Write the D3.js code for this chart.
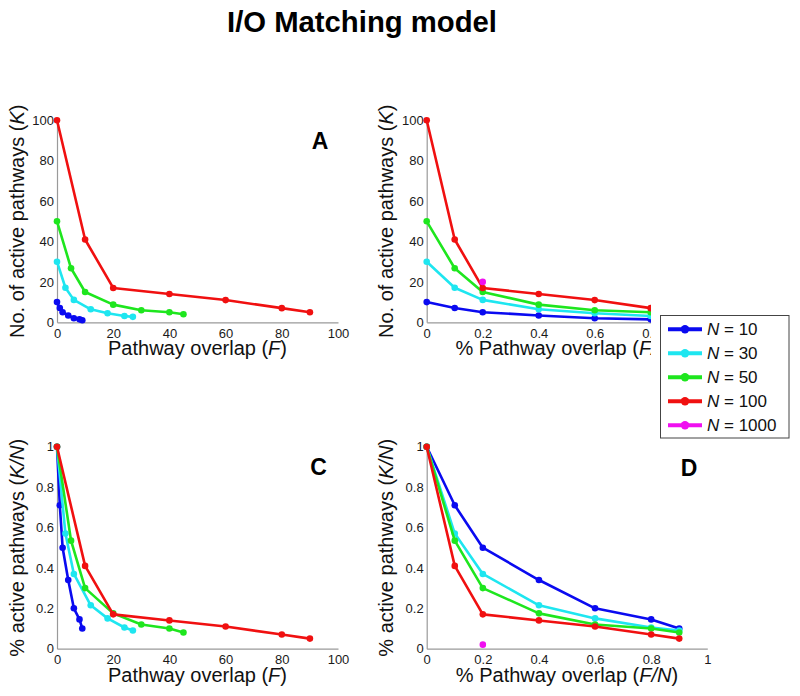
<!DOCTYPE html>
<html>
<head>
<meta charset="utf-8">
<script src="https://cdn.jsdelivr.net/npm/d3@7"></script>
<style>
  html, body { margin: 0; padding: 0; background: #fff; }
  svg { display: block; font-family: "Liberation Sans", Arial, Helvetica, sans-serif; }
</style>
</head>
<body>
<svg id="chart" width="800" height="696"></svg>
<script>
// ---------------- DATA ----------------
const seriesN = [10, 30, 50, 100, 1000];
const seriesColors = ["#0a0af0", "#1ee6f0", "#1ee61e", "#f01010", "#f010f0"];
const seriesLabels = ["10", "30", "50", "100", "1000"];

// Pathway overlap F (per series)
const F_N10   = [0, 1, 2, 4, 6, 8, 9];
const F_N30   = [0, 3, 6, 12, 18, 24, 27];
const F_N50   = [0, 5, 10, 20, 30, 40, 45];
const F_N100  = [0, 10, 20, 40, 60, 80, 90];
const F_N1000 = [200];

// Number of active pathways K (per series)
const K_N10   = [10, 7.1, 5, 3.4, 2, 1.45, 1];
const K_N30   = [30, 17.1, 11.1, 6.45, 4.5, 3.15, 2.7];
const K_N50   = [50, 26.75, 15, 8.75, 6, 5, 4];
const K_N100  = [100, 41, 17, 14, 11, 7, 5];
const K_N1000 = [20];

const F_all = [F_N10, F_N30, F_N50, F_N100, F_N1000];
const K_all = [K_N10, K_N30, K_N50, K_N100, K_N1000];

// tick labels
const ticksCount = [0, 20, 40, 60, 80, 100];
const ticksFrac  = [0, 0.2, 0.4, 0.6, 0.8, 1];

// ---------------- DRAW ----------------
const svg = d3.select("#chart");
const fmt = d => (d === 0 ? "0" : d3.format("~g")(d));

svg.append("text")
  .attr("x", 362).attr("y", 32)
  .attr("text-anchor", "middle")
  .attr("font-size", 29).attr("font-weight", "bold")
  .attr("textLength", 270).attr("lengthAdjust", "spacingAndGlyphs")
  .text("I/O Matching model");

const defs = svg.append("defs");
defs.append("clipPath").attr("id", "clipB")
  .append("rect").attr("x", 360).attr("y", 60).attr("width", 291).attr("height", 320);

function panel(cfg) {
  const g = svg.append("g");
  if (cfg.clip) g.attr("clip-path", "url(#" + cfg.clip + ")");
  const x = d3.scaleLinear().domain([0, cfg.xmax]).range([cfg.x0, cfg.x1]);
  const y = d3.scaleLinear().domain([0, cfg.ymax]).range([cfg.yb, cfg.yt]);

  // axes
  const xa = g.append("g").attr("transform", `translate(0,${cfg.yb})`)
    .call(d3.axisBottom(x).tickValues(cfg.xticks).tickSize(0).tickPadding(6).tickFormat(fmt));
  const ya = g.append("g").attr("transform", `translate(${cfg.x0},0)`)
    .call(d3.axisLeft(y).tickValues(cfg.yticks).tickSize(0).tickPadding(3).tickFormat(fmt));
  [xa, ya].forEach(a => {
    a.select(".domain").attr("stroke", "#9a9a9a").attr("stroke-width", 1.2);
    a.selectAll("text").attr("font-size", 13).attr("fill", "#1a1a1a")
      .attr("font-family", "Liberation Sans, Arial, sans-serif");
  });

  // series
  for (let i = 0; i < seriesN.length; i++) {
    const N = seriesN[i];
    const pts = F_all[i].map((f, j) => ({
      xv: cfg.xfrac ? f / N : f,
      yv: cfg.yfrac ? K_all[i][j] / N : K_all[i][j]
    })).filter(p => p.xv <= cfg.xmax && p.yv <= cfg.ymax);
    if (!pts.length) continue;
    const line = d3.line().x(p => x(p.xv)).y(p => y(p.yv));
    g.append("path").datum(pts).attr("d", line)
      .attr("fill", "none").attr("stroke", seriesColors[i]).attr("stroke-width", 2.6)
      .attr("stroke-linejoin", "round");
    g.selectAll(null).data(pts).enter().append("circle")
      .attr("cx", p => x(p.xv)).attr("cy", p => y(p.yv)).attr("r", 3.3)
      .attr("fill", seriesColors[i]);
  }

  // x label
  const xl = g.append("text")
    .attr("x", (cfg.x0 + cfg.x1) / 2).attr("y", cfg.yb + 33)
    .attr("text-anchor", "middle").attr("font-size", 20).attr("fill", "#111");
  cfg.xlabel.forEach(([t, it]) => xl.append("tspan").attr("font-style", it ? "italic" : null).text(t));
  // y label
  const yl = g.append("text")
    .attr("transform", `translate(${cfg.ylx},${(cfg.yt + cfg.yb) / 2}) rotate(-90)`)
    .attr("text-anchor", "middle").attr("font-size", 20).attr("fill", "#111");
  cfg.ylabel.forEach(([t, it]) => yl.append("tspan").attr("font-style", it ? "italic" : null).text(t));

  // panel letter
  g.append("text").attr("x", cfg.lx).attr("y", cfg.ly)
    .attr("text-anchor", "middle").attr("font-size", 23).attr("font-weight", "bold")
    .text(cfg.letter);
}

panel({ x0: 57, x1: 338, yt: 120.3, yb: 322.3, xmax: 100, ymax: 100,
  xticks: ticksCount, yticks: ticksCount, xfrac: false, yfrac: false,
  xlabel: [["Pathway overlap ("], ["F", true], [")"]],
  ylabel: [["No. of active pathways ("], ["K", true], [")"]],
  ylx: 24, letter: "A", lx: 320, ly: 149 });

panel({ x0: 426.7, x1: 706.7, yt: 120.3, yb: 322.3, xmax: 1, ymax: 100,
  xticks: ticksFrac, yticks: ticksCount, xfrac: true, yfrac: false,
  xlabel: [["% Pathway overlap ("], ["F/N", true], [")"]],
  ylabel: [["No. of active pathways ("], ["K", true], [")"]],
  ylx: 393, letter: "B", lx: 689.5, ly: 149, clip: "clipB" });

panel({ x0: 57, x1: 338, yt: 446.7, yb: 648.7, xmax: 100, ymax: 1,
  xticks: ticksCount, yticks: ticksFrac, xfrac: false, yfrac: true,
  xlabel: [["Pathway overlap ("], ["F", true], [")"]],
  ylabel: [["% active pathways ("], ["K/N", true], [")"]],
  ylx: 24, letter: "C", lx: 318.5, ly: 475 });

panel({ x0: 426.7, x1: 707.3, yt: 446.7, yb: 648.7, xmax: 1, ymax: 1,
  xticks: ticksFrac, yticks: ticksFrac, xfrac: true, yfrac: true,
  xlabel: [["% Pathway overlap ("], ["F/N", true], [")"]],
  ylabel: [["% active pathways ("], ["K/N", true], [")"]],
  ylx: 393, letter: "D", lx: 689, ly: 476 });

// ---------------- LEGEND ----------------
const lg = svg.append("g");
lg.append("rect").attr("x", 660.5).attr("y", 315.5).attr("width", 128.5).attr("height", 122.5)
  .attr("fill", "#fff").attr("stroke", "#444").attr("stroke-width", 1);
seriesN.forEach((n, i) => {
  const yy = 329.3 + i * 24;
  lg.append("line").attr("x1", 668).attr("x2", 702).attr("y1", yy).attr("y2", yy)
    .attr("stroke", seriesColors[i]).attr("stroke-width", 4);
  lg.append("circle").attr("cx", 685).attr("cy", yy).attr("r", 4.2).attr("fill", seriesColors[i]);
  const t = lg.append("text").attr("x", 707).attr("y", yy + 6).attr("font-size", 17).attr("fill", "#111");
  t.append("tspan").attr("font-style", "italic").text("N");
  t.append("tspan").text(" = " + seriesLabels[i]);
});
</script>
</body>
</html>
